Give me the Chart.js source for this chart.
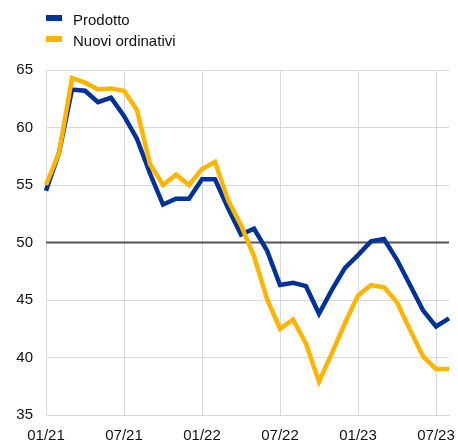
<!DOCTYPE html>
<html>
<head>
<meta charset="utf-8">
<script src="https://cdn.jsdelivr.net/npm/chart.js@4/dist/chart.umd.min.js"></script>
<style>
  body { margin: 0; background: #fff; }
  #wrap { position: relative; width: 458px; height: 443px; }
  #legend { position: absolute; left: 46px; top: 9px; font: 15px "Liberation Sans", Arial, sans-serif; color: #111; }
  .item { height: 21px; line-height: 21px; }
  .box { display: inline-block; width: 16px; height: 6px; margin-right: 11px; vertical-align: 4px; }
</style>
</head>
<body>
<div id="wrap">
  <canvas id="chart" width="458" height="443"></canvas>
  <div id="legend"></div>
</div>
<script>
// mesi da 01/21 a 08/23
const months = [
  '01/21','02/21','03/21','04/21','05/21','06/21','07/21','08/21','09/21','10/21','11/21','12/21',
  '01/22','02/22','03/22','04/22','05/22','06/22','07/22','08/22','09/22','10/22','11/22','12/22',
  '01/23','02/23','03/23','04/23','05/23','06/23','07/23','08/23'
];
const prodotto = [
  54.5, 57.8, 63.3, 63.2, 62.2, 62.6, 61.0, 59.0, 56.0, 53.3, 53.8, 53.8,
  55.5, 55.5, 53.0, 50.7, 51.2, 49.3, 46.3, 46.5, 46.2, 43.8, 45.9, 47.8,
  48.9, 50.1, 50.3, 48.5, 46.3, 44.1, 42.7, 43.4
];
const nuoviOrdinativi = [
  55.0, 57.8, 64.3, 63.9, 63.3, 63.4, 63.2, 61.5, 56.8, 55.0, 55.9, 55.0,
  56.4, 57.0, 53.7, 51.5, 48.8, 45.1, 42.5, 43.3, 41.2, 37.9, 40.4, 43.0,
  45.4, 46.3, 46.1, 44.8, 42.4, 40.1, 39.0, 39.0
];
const yTicks = [35, 40, 45, 50, 55, 60, 65];
const refLine = 50;

const series = [
  { label: 'Prodotto', data: prodotto, color: '#003299', order: 1 },
  { label: 'Nuovi ordinativi', data: nuoviOrdinativi, color: '#ffb400', order: 0 }
];

// legenda html
const legend = document.getElementById('legend');
series.forEach(function(s) {
  const div = document.createElement('div');
  div.className = 'item';
  div.innerHTML = '<span class="box" style="background:' + s.color + '"></span>' + s.label;
  legend.appendChild(div);
});

// linea a 50
const refLinePlugin = {
  id: 'refLine',
  beforeDatasetsDraw(chart) {
    const y = chart.scales.y.getPixelForValue(refLine);
    const ctx = chart.ctx;
    ctx.save();
    ctx.strokeStyle = '#555';
    ctx.lineWidth = 2;
    ctx.beginPath();
    ctx.moveTo(chart.chartArea.left, y);
    ctx.lineTo(chart.chartArea.right, y);
    ctx.stroke();
    ctx.restore();
  }
};

const ctx = document.getElementById('chart').getContext('2d');
const chart = new Chart(ctx, {
  type: 'line',
  data: {
    labels: months,
    datasets: series.map(function(s) {
      return {
        label: s.label,
        data: s.data,
        borderColor: s.color,
        backgroundColor: s.color,
        borderWidth: 4.5,
        pointRadius: 0,
        tension: 0,
        order: s.order,
        borderJoinStyle: 'miter'
      };
    })
  },
  options: {
    responsive: false,
    animation: false,
    layout: { padding: { top: 70, right: 9, left: 0, bottom: 0 } },
    plugins: { legend: { display: false }, tooltip: { enabled: false } },
    scales: {
      x: {
        grid: {
          color: '#d9d9d9',
          drawTicks: false
        },
        border: { color: '#d9d9d9' },
        ticks: {
          autoSkip: false,
          maxRotation: 0,
          padding: 12,
          color: '#111',
          font: { family: '"Liberation Sans", Arial, sans-serif', size: 15 },
          callback: function(v, i) { return i % 6 === 0 ? months[i] : null; }
        },
        afterFit: function(scale) {
          scale.height = 28;
          scale.paddingLeft = 0;
          scale.paddingRight = 0;
        }
      },
      y: {
        min: 35,
        max: 65,
        afterBuildTicks: function(scale) {
          scale.ticks = yTicks.map(function(v) { return { value: v }; });
        },
        grid: { color: '#d9d9d9', drawTicks: false },
        border: { display: false },
        ticks: {
          padding: 13,
          color: '#111',
          font: { family: '"Liberation Sans", Arial, sans-serif', size: 15 }
        },
        afterFit: function(scale) { scale.width = 46; }
      }
    }
  },
  plugins: [refLinePlugin]
});
</script>
</body>
</html>
